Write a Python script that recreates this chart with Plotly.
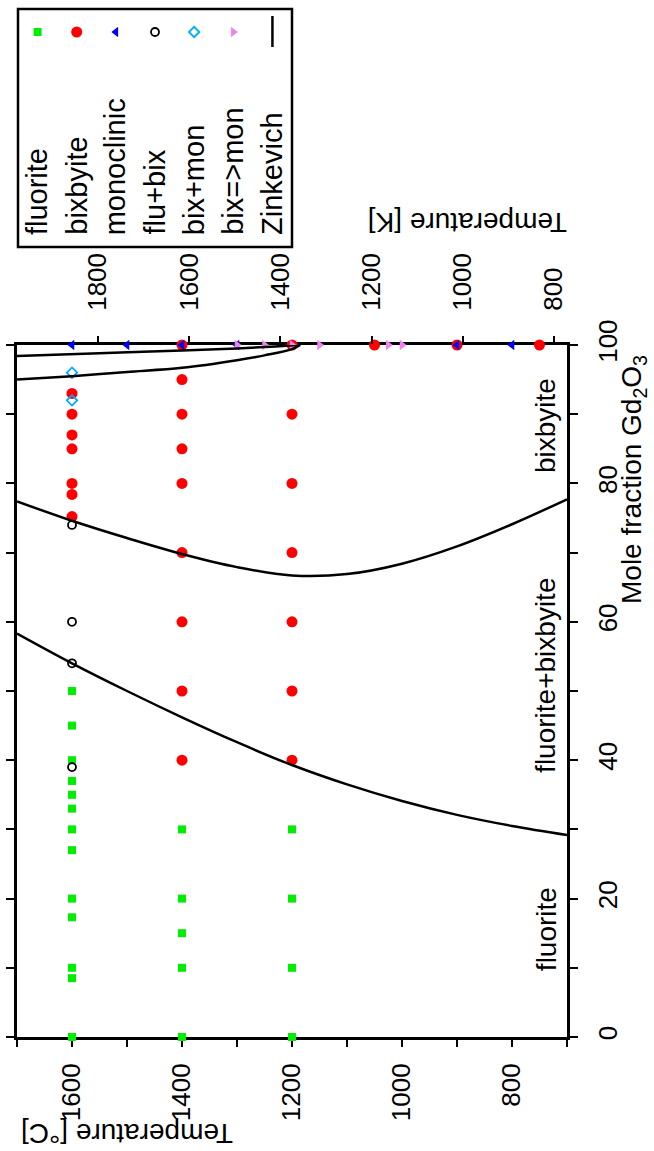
import plotly.graph_objects as go

W, H = 654, 1151
FONT = "Liberation Sans, Arial, sans-serif"

# ---------------- data (temperature in degC, mole fraction Gd2O3 in %) -------------
fluorite_T = [1600] * 13 + [1400] * 5 + [1200] * 4
fluorite_X = [0, 8.5, 10, 17.3, 20, 27, 30, 33, 35, 37, 40, 45, 50,
              0, 10, 15, 20, 30,
              0, 10, 20, 30]

bixbyite_T = [1600] * 7 + [1400] * 9 + [1200] * 7 + [1050, 900, 750]
bixbyite_X = [75.2, 78.4, 80, 85, 87, 90, 93,
              40, 50, 60, 70, 80, 85, 90, 95, 100,
              40, 50, 60, 70, 80, 90, 100,
              100, 100, 100]

monoclinic_T = [1600, 1500, 1400, 1300, 900, 800]
monoclinic_X = [100, 100, 100, 100, 100, 100]

flubix_T = [1600, 1600, 1600, 1600]
flubix_X = [39, 54, 60, 74]

bixmon_T = [1600, 1600]
bixmon_X = [92, 96]

bix2mon_T = [1300, 1250, 1200, 1150, 1025, 1000]
bix2mon_X = [100, 100, 100, 100, 100, 100]

# Zinkevich phase boundaries
zk1_T = [1700, 1600, 1500, 1400, 1300, 1200, 1100, 1000, 900, 800, 700]
zk1_X = [58.3, 54.0, 50.0, 46.2, 42.6, 39.3, 36.5, 34.1, 32.1, 30.5, 29.2]

zk2_T = [1700, 1600, 1500, 1400, 1300, 1200, 1100, 1000, 900, 800, 700]
zk2_X = [77.4, 74.6, 72.1, 69.8, 67.9, 66.7, 66.9, 68.4, 70.9, 74.1, 77.7]

zk3_T = [1700, 1550, 1400, 1300, 1230, 1190]
zk3_X = [98.4, 98.8, 99.2, 99.5, 99.8, 100]

zk4_T = [1700, 1600, 1500, 1400, 1300, 1250, 1200, 1185]
zk4_X = [95.0, 95.5, 96.1, 96.7, 97.8, 98.5, 99.4, 100]

C_ticks = [800, 1000, 1200, 1400, 1600]
C_minor = [700, 900, 1100, 1300, 1500, 1700]
K_ticks = [800, 1000, 1200, 1400, 1600, 1800]
X_ticks = [0, 20, 40, 60, 80, 100]
X_minor = [10, 30, 50, 70, 90]

legend_names = ["fluorite", "bixbyite", "monoclinic", "flu+bix", "bix+mon",
                "bix=>mon", "Zinkevich"]
region_labels = ["fluorite", "fluorite+bixbyite", "bixbyite"]
region_X = [15.6, 52.2, 88.3]

# ---------------- styles ---------------------------------------------------------
styles = [
    dict(symbol="square", color="#00ee00", size=8),
    dict(symbol="circle", color="#ff0000", size=11),
    dict(symbol="triangle-left", color="#0000ff", size=9),
    dict(symbol="circle-open", color="#000000", size=8, lw=1.8),
    dict(symbol="diamond-open", color="#00aaff", size=8, lw=1.8),
    dict(symbol="triangle-right", color="#ee82ee", size=9),
]

series = [
    (fluorite_T, fluorite_X),
    (bixbyite_T, bixbyite_X),
    (monoclinic_T, monoclinic_X),
    (flubix_T, flubix_X),
    (bixmon_T, bixmon_X),
    (bix2mon_T, bix2mon_X),
]


def marker_of(st):
    return dict(symbol=st["symbol"], color=st["color"], size=st["size"],
                line=dict(width=st.get("lw", 0), color=st["color"]))


fig = go.Figure()

for (t, x), st in zip(series, styles):
    fig.add_trace(go.Scatter(x=t, y=x, mode="markers", marker=marker_of(st),
                             cliponaxis=False, showlegend=False,
                             xaxis="x", yaxis="y"))

for t, x in [(zk1_T, zk1_X), (zk2_T, zk2_X), (zk3_T, zk3_X), (zk4_T, zk4_X)]:
    fig.add_trace(go.Scatter(x=t, y=x, mode="lines",
                             line=dict(color="black", width=2.5, shape="spline",
                                       smoothing=1.0),
                             showlegend=False, xaxis="x", yaxis="y"))

# dummy trace so the Kelvin axis is drawn
fig.add_trace(go.Scatter(x=[], y=[], xaxis="x2", yaxis="y", showlegend=False))

# ---------------- custom rotated legend ------------------------------------------
n = len(legend_names)
for i, st in enumerate(styles):
    fig.add_trace(go.Scatter(x=[i + 0.5], y=[24], mode="markers",
                             marker=marker_of(st), showlegend=False,
                             xaxis="x3", yaxis="y3", cliponaxis=False))
fig.add_trace(go.Scatter(x=[n - 0.5, n - 0.5], y=[8, 39], mode="lines",
                         line=dict(color="black", width=2.5), showlegend=False,
                         xaxis="x3", yaxis="y3"))

annotations = []
for i, name in enumerate(legend_names):
    annotations.append(dict(x=i + 0.5, y=229, xref="x3", yref="y3", text=name,
                            showarrow=False, textangle=-90, xanchor="center",
                            yanchor="bottom",
                            font=dict(family=FONT, size=29, color="black")))

# region labels inside plot
for lab, xv in zip(region_labels, region_X):
    annotations.append(dict(x=738, y=xv, xref="x", yref="y", text=lab,
                            showarrow=False, textangle=-90, xanchor="center",
                            yanchor="middle",
                            font=dict(family=FONT, size=28, color="black")))

# axis titles
annotations += [
    dict(x=127 / W, y=1 - 1134 / H, xref="paper", yref="paper",
         text="Temperature [°C]", showarrow=False, textangle=180,
         xanchor="center", yanchor="middle",
         font=dict(family=FONT, size=28, color="black")),
    dict(x=468 / W, y=1 - 222 / H, xref="paper", yref="paper",
         text="Temperature [K]", showarrow=False, textangle=180,
         xanchor="center", yanchor="middle",
         font=dict(family=FONT, size=28, color="black")),
    dict(x=634 / W, y=1 - 480 / H, xref="paper", yref="paper",
         text="Mole fraction Gd<sub>2</sub>O<sub>3</sub>", showarrow=False,
         textangle=-90, xanchor="center", yanchor="middle",
         font=dict(family=FONT, size=28, color="black")),
]

shapes = [dict(type="rect", xref="paper", yref="paper",
               x0=18 / W, x1=292 / W, y0=1 - 247 / H, y1=1 - 9 / H,
               line=dict(color="black", width=2.5), fillcolor="rgba(0,0,0,0)")]

xdom = [17 / W, 567 / W]
ydom = [1 - 1037 / H, 1 - 345 / H]
tickfont = dict(family=FONT, size=26, color="black")

fig.update_layout(
    width=W, height=H,
    margin=dict(l=0, r=0, t=0, b=0),
    paper_bgcolor="white", plot_bgcolor="white",
    showlegend=False,
    annotations=annotations,
    shapes=shapes,
    xaxis=dict(domain=xdom, range=[1700, 700], tickmode="array",
               tickvals=C_ticks, ticktext=[str(v) for v in C_ticks],
               ticks="outside", ticklen=7, tickwidth=2, tickcolor="black",
               minor=dict(tickmode="array", tickvals=C_minor,
                          ticks="outside", ticklen=7, tickwidth=2,
                          tickcolor="black"),
               tickangle=-90, tickfont=tickfont, ticklabelstandoff=6,
               showline=True, linecolor="black", linewidth=3, mirror=True,
               showgrid=False, zeroline=False, automargin=False,
               layer="below traces", anchor="y"),
    xaxis2=dict(domain=xdom, overlaying="x", side="top", anchor="y",
                range=[1977.5, 771.5], tickmode="array", tickvals=K_ticks,
                ticktext=[str(v) for v in K_ticks], ticks="outside",
                ticklen=8, tickwidth=2, tickcolor="black", tickangle=-90,
                tickfont=tickfont, ticklabelstandoff=20, showgrid=False,
                zeroline=False, showline=False, automargin=False),
    yaxis=dict(domain=ydom, range=[0, 100], side="right", tickmode="array",
               tickvals=X_ticks, ticktext=[str(v) for v in X_ticks],
               ticks="outside", ticklen=8, tickwidth=2, tickcolor="black",
               minor=dict(tickmode="array", tickvals=X_minor,
                          ticks="outside", ticklen=7, tickwidth=2,
                          tickcolor="black"),
               tickangle=-90, tickfont=tickfont, ticklabelstandoff=8,
               showline=True, linecolor="black", linewidth=3, mirror="allticks",
               showgrid=False, zeroline=False, automargin=False,
               layer="below traces", anchor="x"),
    xaxis3=dict(domain=[18 / W, 292 / W], range=[0, n], visible=False,
                anchor="y3", fixedrange=True),
    yaxis3=dict(domain=[1 - 247 / H, 1 - 8 / H], range=[239, 0], visible=False,
                anchor="x3", fixedrange=True),
)

fig.write_html("out.html")
